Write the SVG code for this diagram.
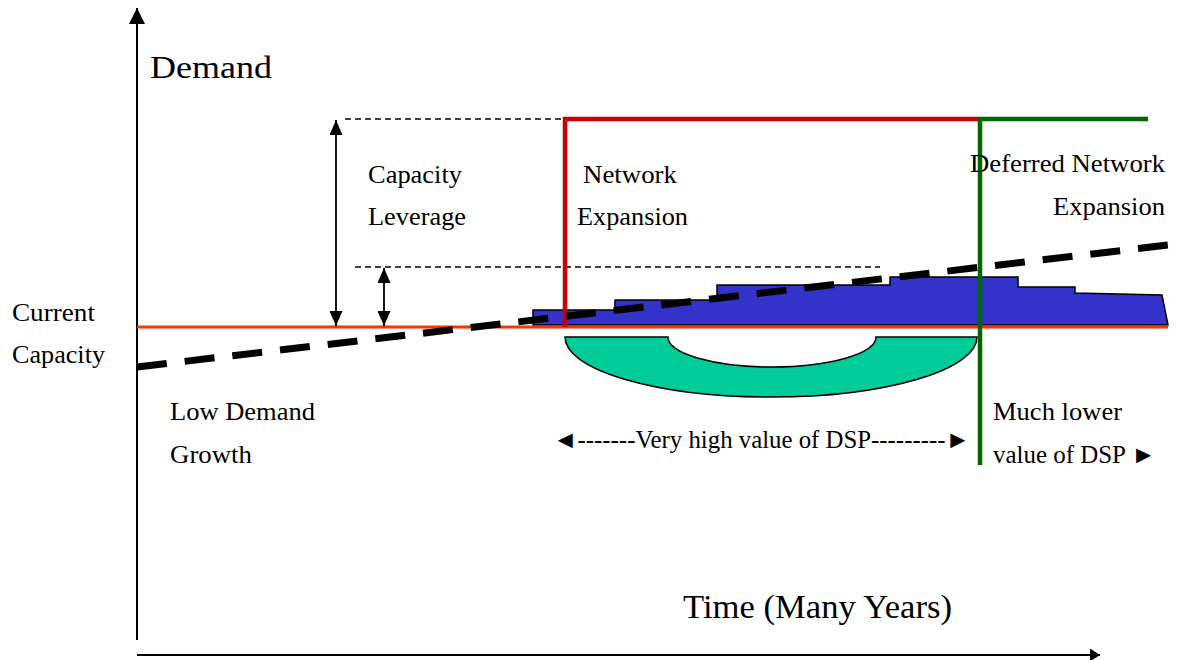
<svg xmlns="http://www.w3.org/2000/svg" width="1181" height="660" viewBox="0 0 1181 660">
<style>
text{font-family:"Liberation Serif","Times New Roman",serif;fill:#000;font-size:25px}
.big{font-size:31px}
.time{font-size:33px}
.axis{stroke:#000;stroke-width:2;fill:none}
.thin{stroke:#000;stroke-width:1.5;stroke-dasharray:6,4;fill:none}
.dbl{stroke:#000;stroke-width:1.8;fill:none;marker-start:url(#ah);marker-end:url(#ah)}
</style>
<defs>
<marker id="ah" viewBox="0 0 10 10" refX="10" refY="5" markerWidth="15" markerHeight="13" markerUnits="userSpaceOnUse" orient="auto-start-reverse" preserveAspectRatio="none"><path d="M0,0 L10,5 L0,10 Z" fill="#000"/></marker>
<marker id="axh" viewBox="0 0 10 10" refX="10" refY="5" markerWidth="16" markerHeight="16" markerUnits="userSpaceOnUse" orient="auto" preserveAspectRatio="none"><path d="M0,0 L10,5 L0,10 Z" fill="#000"/></marker>
<marker id="axh2" viewBox="0 0 10 10" refX="10" refY="5" markerWidth="10" markerHeight="13" markerUnits="userSpaceOnUse" orient="auto" preserveAspectRatio="none"><path d="M0,0 L10,5 L0,10 Z" fill="#000"/></marker>
</defs>
<rect width="1181" height="660" fill="#fff"/>
<g id="shapes">
<path id="demand-area" d="M533,325 L533,310 L615,310 L615,300 L717,300 L717,285 L890,285 L890,277 L1018,277 L1018,287 L1075,287 L1075,293 L1162,295 L1168,325 Z" fill="#3333CC" stroke="#000" stroke-width="1.5"/>
<path id="dsp-ring" d="M565,337 L668,337 A104,30 0 0,0 876,337 L977,337 A206,60 0 0,1 565,337 Z" fill="#00CC99" stroke="#000" stroke-width="1.5"/>
</g>
<g id="connectors">
<line class="axis" x1="137" y1="640" x2="137" y2="8" marker-end="url(#axh)"/>
<line class="axis" x1="137" y1="655" x2="1100" y2="655" marker-end="url(#axh2)"/>
<line id="current-capacity" x1="137" y1="327" x2="1168" y2="327" stroke="#FF3300" stroke-width="3"/>
<line class="thin" x1="345" y1="119" x2="565" y2="119"/>
<line class="thin" x1="355" y1="267" x2="880" y2="267"/>
<line class="dbl" x1="336" y1="120" x2="336" y2="326"/>
<line class="dbl" x1="384" y1="268" x2="384" y2="326"/>
<polyline id="network-expansion" points="565,327 565,119 978,119" fill="none" stroke="#CC0000" stroke-width="4.5"/>
<polyline id="deferred-expansion" points="980,465 980,119 1148,119" fill="none" stroke="#006600" stroke-width="4.5"/>
<line id="low-demand" x1="137" y1="367" x2="1168" y2="245" stroke="#000" stroke-width="7" stroke-dasharray="30,18"/>
</g>
<g id="labels">
<text class="big" x="150" y="78" textLength="122" lengthAdjust="spacingAndGlyphs">Demand</text>
<text x="368" y="183" textLength="94" lengthAdjust="spacingAndGlyphs">Capacity</text>
<text x="368" y="225" textLength="98" lengthAdjust="spacingAndGlyphs">Leverage</text>
<text x="583" y="183" textLength="94" lengthAdjust="spacingAndGlyphs">Network</text>
<text x="577" y="225" textLength="111" lengthAdjust="spacingAndGlyphs">Expansion</text>
<text x="970" y="172" textLength="195" lengthAdjust="spacingAndGlyphs">Deferred Network</text>
<text x="1053" y="215" textLength="112" lengthAdjust="spacingAndGlyphs">Expansion</text>
<text x="12" y="321" textLength="83" lengthAdjust="spacingAndGlyphs">Current</text>
<text x="12" y="363" textLength="93" lengthAdjust="spacingAndGlyphs">Capacity</text>
<text x="170" y="420" textLength="145" lengthAdjust="spacingAndGlyphs">Low Demand</text>
<text x="170" y="463" textLength="82" lengthAdjust="spacingAndGlyphs">Growth</text>
<text x="553" y="448" textLength="417" lengthAdjust="spacingAndGlyphs">◄-------Very high value of DSP---------►</text>
<text x="993" y="420" textLength="129" lengthAdjust="spacingAndGlyphs">Much lower</text>
<text x="993" y="463" textLength="163" lengthAdjust="spacingAndGlyphs">value of DSP ►</text>
<text class="time" x="683" y="618" textLength="269" lengthAdjust="spacingAndGlyphs">Time (Many Years)</text>
</g>
</svg>
